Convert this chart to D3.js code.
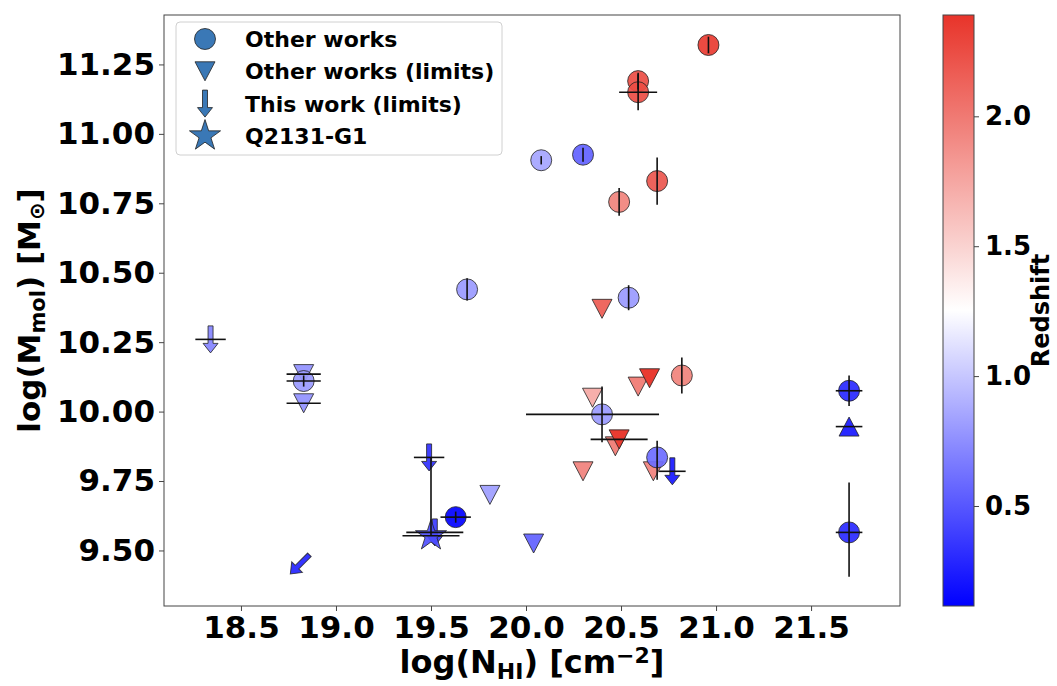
<!DOCTYPE html>
<html>
<head>
<meta charset="utf-8">
<script src="https://cdn.jsdelivr.net/npm/d3@7"></script>
<style>
body{margin:0;background:#fff}
svg{font-family:"DejaVu Sans",sans-serif;font-weight:bold}
</style>
</head>
<body>
<svg id="chart" width="1057" height="686"></svg>
<script>
// Other works (detections): circles
var detX = [20.96, 20.59, 20.59, 20.08, 20.30, 20.49, 20.69, 19.69, 20.54, 18.83, 20.82, 20.40, 20.69, 19.63, 21.70, 21.70];
var detY = [11.32, 11.19, 11.15, 10.905, 10.925, 10.755, 10.83, 10.44, 10.41, 10.11, 10.13, 9.99, 9.835, 9.62, 10.075, 9.565];
var detZ = [2.35, 2.25, 2.25, 0.85, 0.55, 1.95, 2.2, 0.8, 0.8, 0.8, 1.95, 0.8, 0.6, 0.12, 0.3, 0.3];
var detXerrLo = [0, 0, 0.1, 0, 0, 0, 0, 0, 0, 0.09, 0, 0.40, 0, 0.08, 0.07, 0.07];
var detXerrHi = [0, 0, 0.1, 0, 0, 0, 0, 0, 0, 0.09, 0, 0.30, 0, 0.08, 0.07, 0.07];
var detYerrLo = [0.03, 0.03, 0.065, 0.015, 0.025, 0.05, 0.085, 0.04, 0.045, 0.02, 0.065, 0.10, 0.08, 0.02, 0.055, 0.16];
var detYerrHi = [0.03, 0.03, 0.065, 0.015, 0.025, 0.05, 0.085, 0.04, 0.045, 0.02, 0.065, 0.10, 0.06, 0.02, 0.055, 0.18];

// Other works (upper limits): down triangles
var limX = [20.40, 20.59, 20.65, 20.35, 20.47, 20.49, 20.67, 20.30, 19.81, 20.04, 18.83, 18.83];
var limY = [10.37, 10.09, 10.12, 10.05, 9.875, 9.90, 9.785, 9.785, 9.70, 9.525, 10.135, 10.03];
var limZ = [2.1, 1.95, 2.35, 1.7, 1.95, 2.35, 1.9, 1.9, 0.85, 0.6, 0.8, 0.8];
var limXerr = [0, 0, 0, 0, 0, 0.15, 0, 0, 0, 0, 0.09, 0.09];

// Other works (lower limit): up triangle
var upX = [21.70];
var upY = [9.946];
var upZ = [0.3];
var upXerr = [0.07];

// This work (limits): arrows
var twX = [18.34, 19.49, 19.52, 20.77, 18.81];
var twY = [10.26, 9.835, 9.565, 9.785, 9.45];
var twZ = [0.75, 0.4, 0.45, 0.3, 0.35];
var twXerr = [0.08, 0.08, 0.15, 0.07, 0];
var twAngle = [0, 0, 0, 0, 45];

// Q2131-G1
var starX = [19.50];
var starY = [9.553];
var starZ = [0.45];
var starXerr = [0.15];
var starYerrHi = [0.28];

var xTicks = [18.5, 19.0, 19.5, 20.0, 20.5, 21.0, 21.5];
var yTicks = [9.50, 9.75, 10.00, 10.25, 10.50, 10.75, 11.00, 11.25];
var zTicks = [0.5, 1.0, 1.5, 2.0];
var legendLabels = ["Other works", "Other works (limits)", "This work (limits)", "Q2131-G1"];

var svg = d3.select("#chart");
var L = 164, R = 900, T = 15, B = 606;

var x = d3.scaleLinear().domain([18.095, 21.968]).range([L, R]);
var y = d3.scaleLinear().domain([9.30, 11.428]).range([B, T]);
var zmin = 0.115, zmax = 2.39;
var color = d3.scaleLinear().domain([zmin, (zmin + zmax) / 2, zmax]).range(["#0000ff", "#ffffff", "#e8342a"]);

var edge = "#222";

function trianglePath(dir) {
    // dir 1 = pointing down, -1 = up
    var w = 10, h = 9.5;
    return "M" + (-w) + "," + (-h * dir) + "L" + w + "," + (-h * dir) + "L0," + (h * dir) + "Z";
}
function arrowPath() {
    return "M-2.5,-13.5L2.5,-13.5L2.5,4L7.5,4L0,13.5L-7.5,4L-2.5,4Z";
}
var starPath = d3.symbol().type(d3.symbolStar).size(300)();
var circlePath = d3.symbol().type(d3.symbolCircle).size(Math.PI * 110)();

// frame
svg.append("rect").attr("x", L).attr("y", T).attr("width", R - L).attr("height", B - T)
    .attr("fill", "none").attr("stroke", "#444").attr("stroke-width", 1);

// axes
var xAxis = svg.append("g").attr("transform", "translate(0," + B + ")")
    .call(d3.axisBottom(x).tickValues(xTicks).tickFormat(d3.format(".1f")).tickSize(5).tickPadding(5));
var yAxis = svg.append("g").attr("transform", "translate(" + L + ",0)")
    .call(d3.axisLeft(y).tickValues(yTicks).tickFormat(d3.format(".2f")).tickSize(5).tickPadding(4));
[xAxis, yAxis].forEach(function(a) {
    a.select(".domain").remove();
    a.selectAll(".tick line").attr("stroke", "#444");
    a.selectAll("text").attr("fill", "#000").style("font-size", "31px").style("font-weight", "bold")
        .style("font-family", "DejaVu Sans");
});

var marks = svg.append("g");
var bars = svg.append("g").attr("stroke", "#111").attr("stroke-width", 1.6);

function hbar(cx, cy, lo, hi) {
    if (lo <= 0 && hi <= 0) return;
    bars.append("line").attr("x1", x(cx - lo)).attr("x2", x(cx + hi)).attr("y1", y(cy)).attr("y2", y(cy));
}
function vbar(cx, cy, lo, hi) {
    if (lo <= 0 && hi <= 0) return;
    bars.append("line").attr("x1", x(cx)).attr("x2", x(cx)).attr("y1", y(cy - lo)).attr("y2", y(cy + hi));
}

// down triangles
limX.forEach(function(d, i) {
    marks.append("path").attr("d", trianglePath(1))
        .attr("transform", "translate(" + x(d) + "," + y(limY[i]) + ")")
        .attr("fill", color(limZ[i])).attr("stroke", edge).attr("stroke-width", 1).attr("stroke-opacity", 0.8);
    hbar(d, limY[i], limXerr[i], limXerr[i]);
});
// up triangle
upX.forEach(function(d, i) {
    marks.append("path").attr("d", trianglePath(-1))
        .attr("transform", "translate(" + x(d) + "," + y(upY[i]) + ")")
        .attr("fill", color(upZ[i])).attr("stroke", edge).attr("stroke-width", 1).attr("stroke-opacity", 0.8);
    hbar(d, upY[i], upXerr[i], upXerr[i]);
});
// circles
detX.forEach(function(d, i) {
    marks.append("path").attr("d", circlePath)
        .attr("transform", "translate(" + x(d) + "," + y(detY[i]) + ")")
        .attr("fill", color(detZ[i])).attr("fill-opacity", 0.92)
        .attr("stroke", edge).attr("stroke-width", 1).attr("stroke-opacity", 0.8);
    hbar(d, detY[i], detXerrLo[i], detXerrHi[i]);
    vbar(d, detY[i], detYerrLo[i], detYerrHi[i]);
});
// this work arrows
twX.forEach(function(d, i) {
    marks.append("path").attr("d", arrowPath())
        .attr("transform", "translate(" + x(d) + "," + y(twY[i]) + ") rotate(" + twAngle[i] + ")")
        .attr("fill", color(twZ[i])).attr("stroke", edge).attr("stroke-width", 1).attr("stroke-opacity", 0.8);
    hbar(d, twY[i], twXerr[i], twXerr[i]);
});
// star
starX.forEach(function(d, i) {
    marks.append("path").attr("d", starPath)
        .attr("transform", "translate(" + x(d) + "," + y(starY[i]) + ")")
        .attr("fill", color(starZ[i])).attr("fill-opacity", 0.9)
        .attr("stroke", edge).attr("stroke-width", 1).attr("stroke-opacity", 0.8);
    hbar(d, starY[i], starXerr[i], starXerr[i]);
    vbar(d, starY[i], 0, starYerrHi[i]);
});

// axis labels
var xl = svg.append("text").attr("x", (L + R) / 2).attr("y", 673).attr("text-anchor", "middle")
    .style("font-size", "32px");
xl.append("tspan").text("log(N");
xl.append("tspan").text("HI").style("font-size", "22px").attr("dy", 6);
xl.append("tspan").text(") [cm").attr("dy", -6);
xl.append("tspan").text("\u22122").style("font-size", "22px").attr("dy", -10);
xl.append("tspan").text("]").attr("dy", 10);

var yl = svg.append("text").attr("transform", "translate(40," + ((T + B) / 2) + ") rotate(-90)")
    .attr("text-anchor", "middle").style("font-size", "31px");
yl.append("tspan").text("log(M");
yl.append("tspan").text("mol").style("font-size", "21px").attr("dy", 5);
yl.append("tspan").text(") [M").attr("dy", -5);
yl.append("tspan").text("\u2299").style("font-size", "21px").attr("dy", 4);
yl.append("tspan").text("]").attr("dy", -4);

// colorbar
var cbL = 943, cbW = 31;
var grad = svg.append("defs").append("linearGradient").attr("id", "cbgrad")
    .attr("x1", 0).attr("y1", 1).attr("x2", 0).attr("y2", 0);
d3.range(0, 1.0001, 0.05).forEach(function(t) {
    grad.append("stop").attr("offset", t).attr("stop-color", color(zmin + t * (zmax - zmin)));
});
svg.append("rect").attr("x", cbL).attr("y", T).attr("width", cbW).attr("height", B - T)
    .attr("fill", "url(#cbgrad)").attr("stroke", "#444").attr("stroke-width", 1);
var zc = d3.scaleLinear().domain([zmin, zmax]).range([B, T]);
var cAxis = svg.append("g").attr("transform", "translate(" + (cbL + cbW) + ",0)")
    .call(d3.axisRight(zc).tickValues(zTicks).tickFormat(d3.format(".1f")).tickSize(5).tickPadding(6));
cAxis.select(".domain").remove();
cAxis.selectAll(".tick line").attr("stroke", "#444");
cAxis.selectAll("text").attr("fill", "#000").style("font-size", "26px").style("font-weight", "bold")
    .style("font-family", "DejaVu Sans");
svg.append("text").attr("transform", "translate(1049," + ((T + B) / 2) + ") rotate(-90)")
    .attr("text-anchor", "middle").style("font-size", "24px").text("Redshift");

// legend
var lg = svg.append("g");
lg.append("rect").attr("x", 176).attr("y", 22).attr("width", 326).attr("height", 133).attr("rx", 4)
    .attr("fill", "#fff").attr("fill-opacity", 0.85).attr("stroke", "#d0d0d0");
var legColor = "#3a78b6";
var legShapes = [circlePath, trianglePath(1), arrowPath(), starPath];
legendLabels.forEach(function(t, i) {
    var cy = 39 + i * 32.3;
    lg.append("path").attr("d", legShapes[i]).attr("transform", "translate(205," + cy + ")")
        .attr("fill", legColor).attr("stroke", edge).attr("stroke-width", 1).attr("stroke-opacity", 0.8);
    lg.append("text").attr("x", 245).attr("y", cy + 8).style("font-size", "22px").text(t);
});
</script>
</body>
</html>
